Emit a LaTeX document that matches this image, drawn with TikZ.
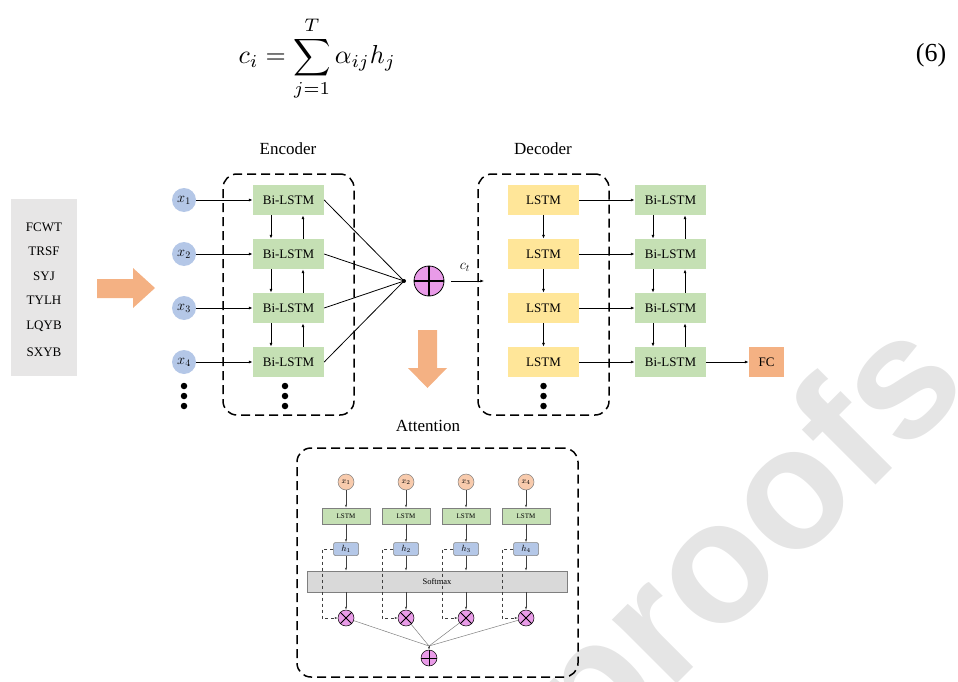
\documentclass[tikz,border=0pt]{standalone}
\usepackage{fontspec}
\setmainfont{Liberation Serif}
\newfontfamily\wmfont{Liberation Sans}
\usetikzlibrary{arrows.meta}
\definecolor{lgreen}{HTML}{C5E0B4}
\definecolor{lyellow}{HTML}{FFE699}
\definecolor{lblue}{HTML}{B4C7E7}
\definecolor{lorange}{HTML}{F4B183}
\definecolor{lpeach}{HTML}{F8CBAD}
\definecolor{lviolet}{RGB}{233,155,232}
\definecolor{lgreybox}{HTML}{E7E6E6}
\definecolor{lsoft}{HTML}{D9D9D9}
\definecolor{edgegrey}{HTML}{7F7F7F}
\begin{document}
\begin{tikzpicture}[x=1pt,y=-1pt,
  bilstm/.style={fill=lgreen, minimum width=71pt, minimum height=30pt, inner sep=0pt, font=\fontsize{13}{15}\selectfont},
  lstmbox/.style={bilstm, fill=lyellow},
  xin/.style={circle, fill=lblue, minimum size=24pt, inner sep=0pt, font=\fontsize{14}{16}\selectfont},
  conn/.style={draw, line width=0.8pt, -{Latex[length=4pt,width=3pt]}},
  plainln/.style={draw, line width=0.8pt},
  dbox/.style={draw, line width=1.5pt, dash pattern=on 9pt off 5pt, rounded corners=14pt, minimum width=131pt, minimum height=241pt, inner sep=0pt},
  lbl/.style={font=\fontsize{17}{20}\selectfont},
  dotn/.style={circle, fill=black, minimum size=6.5pt, inner sep=0pt},
  listtxt/.style={font=\fontsize{13}{15}\selectfont},
  opc/.style={circle, fill=lviolet, draw=black, line width=0.8pt, inner sep=0pt},
  axin/.style={circle, fill=lpeach, draw=edgegrey, line width=0.5pt, minimum size=16pt, inner sep=0pt, font=\fontsize{8}{9}\selectfont},
  alstm/.style={fill=lgreen, draw=edgegrey, line width=0.5pt, minimum width=48pt, minimum height=16pt, inner sep=0pt, font=\fontsize{7}{8}\selectfont},
  ahbox/.style={fill=lblue, draw=edgegrey, line width=0.5pt, rounded corners=1.5pt, minimum width=25pt, minimum height=13pt, inner sep=0pt, font=\fontsize{9}{10}\selectfont},
  aconn/.style={draw=black!75, line width=0.5pt, -{Latex[length=3pt,width=2.2pt]}},
  aln/.style={draw=edgegrey, line width=0.5pt},
]
\useasboundingbox (0,0) rectangle (958,682);
% watermark
\begin{scope}
\clip (0,0) rectangle (958,682);
\node[rotate=45, anchor=base west, text=black!10, inner sep=0pt, font=\wmfont\bfseries\fontsize{172}{172}\selectfont] (wm) at (594,766.6) {proofs};
\end{scope}

% equation
\node[anchor=base west, inner sep=0pt, scale=2.6] (eq) at (238,64) {$\displaystyle c_i=\sum_{j=1}^{T}\alpha_{ij}h_j$};
\node[inner sep=0pt, font=\fontsize{26}{30}\selectfont] (eqn) at (931,55) {(6)};

% input list
\node[fill=lgreybox, minimum width=66pt, minimum height=177pt, inner sep=0pt] (list) at (44,287.5) {};
\node[listtxt] (l1) at (44,227) {FCWT};
\node[listtxt] (l2) at (44,251) {TRSF};
\node[listtxt] (l3) at (44,276) {SYJ};
\node[listtxt] (l4) at (44,300) {TYLH};
\node[listtxt] (l5) at (44,326) {LQYB};
\node[listtxt] (l6) at (44,352) {SXYB};
\fill[lorange] (97,279) -- (133,279) -- (133,268) -- (155,288) -- (133,308) -- (133,298) -- (97,298) -- cycle;

% encoder
\node[lbl] (enclbl) at (288,149) {Encoder};
\node[dbox] (enc) at (288.5,294.5) {};
\foreach \i/\y in {1/200,2/254,3/308,4/362}{
  \node[xin] (x\i) at (184,\y) {$x_{\i}$};
  \node[bilstm] (e\i) at (288.5,\y) {Bi-LSTM};
  \draw[conn] (x\i) -- (e\i);
}
\foreach \a/\b in {1/2,2/3,3/4}{
  \draw[conn] ([xshift=-17.5pt]e\a.south) -- ([xshift=-17.5pt]e\b.north);
  \draw[conn] ([xshift=14.5pt]e\b.north) -- ([xshift=14.5pt]e\a.south);
}
\foreach \y [count=\k] in {386,396,406}{
  \node[dotn] (xd\k) at (184,\y) {};
  \node[dotn] (ed\k) at (285,\y) {};
  \node[dotn] (dd\k) at (543.5,\y) {};
}
\coordinate (cv) at (404,281);
\foreach \i in {1,2,3,4}{ \draw[plainln] (e\i.east) -- (cv); }
\fill (cv) circle (2pt);
\node[opc, minimum size=30pt] (plus) at (429,281) {};
\draw[line width=1.2pt] (plus.west) -- (plus.east) (plus.north) -- (plus.south);
\fill[lorange] (418,330) -- (437,330) -- (437,368) -- (447,368) -- (427.5,388) -- (408,368) -- (418,368) -- cycle;

% decoder
\node[lbl] (declbl) at (543,149) {Decoder};
\node[dbox] (dec) at (543.5,294.5) {};
\draw[conn] ([xshift=7pt]plus.east) -- ([xshift=7pt]plus.east -| dec.west);
\node[font=\fontsize{14}{16}\selectfont] (ct) at (465,267) {$c_t$};
\foreach \i/\y in {1/200,2/254,3/308,4/362}{
  \node[lstmbox] (d\i) at (543.5,\y) {LSTM};
  \node[bilstm] (r\i) at (670.5,\y) {Bi-LSTM};
  \draw[conn] (d\i) -- (r\i);
}
\foreach \a/\b in {1/2,2/3,3/4}{
  \draw[conn] (d\a) -- (d\b);
  \draw[conn] ([xshift=-17.5pt]r\a.south) -- ([xshift=-17.5pt]r\b.north);
  \draw[conn] ([xshift=14.5pt]r\b.north) -- ([xshift=14.5pt]r\a.south);
}
\node[bilstm, fill=lorange, minimum width=35pt] (fc) at (766.5,362) {FC};
\draw[conn] (r4) -- (fc);

% attention
\node[lbl] (attlbl) at (428,426) {Attention};
\node[dbox, minimum width=281pt, minimum height=229pt] (att) at (437.5,562.5) {};
\node[fill=lsoft, draw=edgegrey, line width=0.5pt, minimum width=260pt, minimum height=21pt, inner sep=0pt, font=\fontsize{8.5}{10}\selectfont] (soft) at (437,581.5) {Softmax};
\foreach \i/\x in {1/346,2/406,3/466,4/526}{
  \node[axin] (ax\i) at (\x,482) {$x_{\i}$};
  \node[alstm] (al\i) at (\x,516) {LSTM};
  \node[ahbox] (h\i) at (\x,549) {$h_{\i}$};
  \node[opc, minimum size=16pt, line width=0.5pt] (m\i) at (\x,618) {};
  \draw[line width=0.8pt] (m\i.north west) -- (m\i.south east) (m\i.north east) -- (m\i.south west);
  \draw[aconn] (ax\i) -- (al\i);
  \draw[aconn] (al\i) -- (h\i);
  \draw[aconn] (h\i) -- (h\i |- soft.north);
  \draw[aconn] (m\i |- soft.south) -- (m\i);
  \draw[aconn, dashed] (h\i.west) -- ++(-11.5,0) |- (m\i.west);
}
\node[opc, minimum size=16pt, line width=0.5pt] (ap) at (429,658) {};
\draw[line width=0.8pt] (ap.west) -- (ap.east) (ap.north) -- (ap.south);
\coordinate (acv) at (429,646);
\foreach \i in {1,2,3,4}{ \draw[aln] (m\i) -- (acv); }
\draw[aconn] (acv) -- (ap.north);
\end{tikzpicture}
\end{document}
